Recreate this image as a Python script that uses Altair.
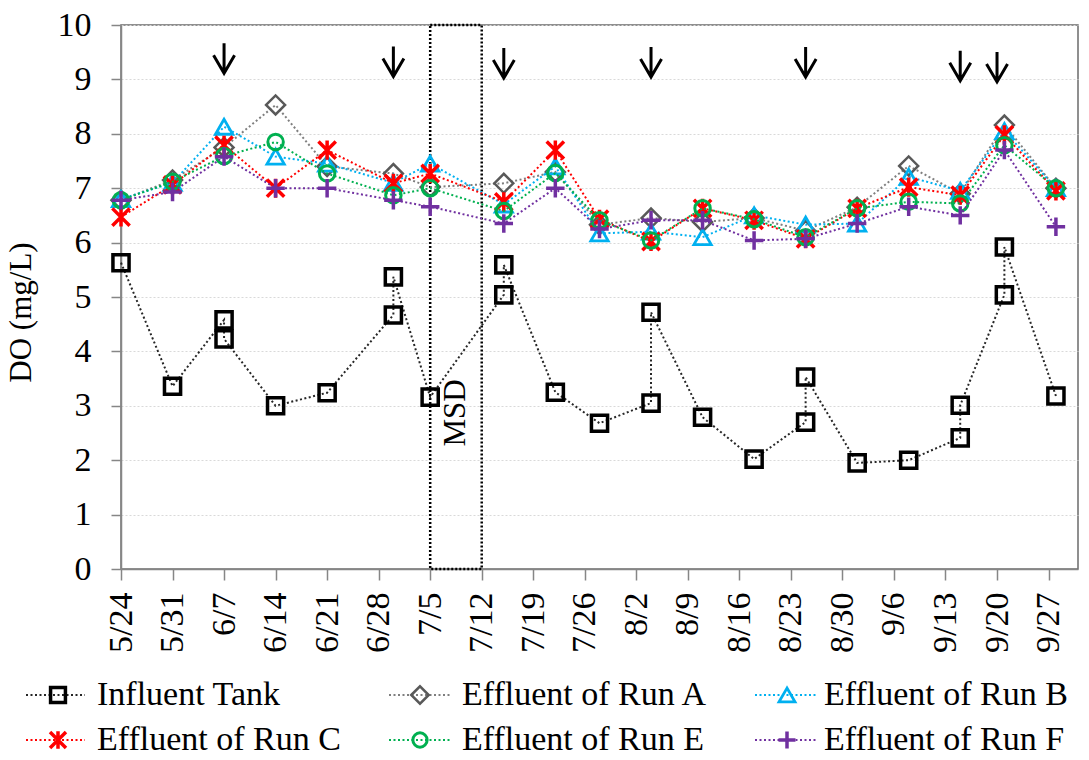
import altair as alt
import pandas as pd

# ---------------- data ----------------
tick_labels = ['5/24', '5/31', '6/7', '6/14', '6/21', '6/28', '7/5', '7/12', '7/19', '7/26',
               '8/2', '8/9', '8/16', '8/23', '8/30', '9/6', '9/13', '9/20', '9/27']

influent_dates = ['5/24', '5/31', '6/7', '6/7', '6/14', '6/21', '6/30', '6/30', '7/5', '7/15',
                  '7/15', '7/22', '7/28', '8/4', '8/4', '8/11', '8/18', '8/25', '8/25', '9/1',
                  '9/8', '9/15', '9/15', '9/21', '9/21', '9/28']
influent_do = [5.63, 3.36, 4.58, 4.23, 3.00, 3.24, 4.67, 5.37, 3.16, 5.04,
               5.59, 3.25, 2.68, 3.05, 4.72, 2.79, 2.02, 2.70, 3.53, 1.95,
               2.00, 2.41, 3.01, 5.04, 5.92, 3.18]

eff_dates = ['5/24', '5/31', '6/7', '6/14', '6/21', '6/30', '7/5', '7/15', '7/22', '7/28',
             '8/4', '8/11', '8/18', '8/25', '9/1', '9/8', '9/15', '9/21', '9/28']
run_a = [6.78, 7.15, 7.75, 8.53, 7.40, 7.27, 7.02, 7.09, 7.30, 6.33,
         6.45, 6.38, 6.45, 6.22, 6.65, 7.41, 6.90, 8.16, 7.00]
run_b = [6.80, 7.10, 8.13, 7.58, 7.45, 7.10, 7.45, 6.70, 7.40, 6.17,
         6.20, 6.10, 6.50, 6.33, 6.35, 7.21, 6.95, 8.05, 7.00]
run_c = [6.47, 7.06, 7.79, 7.00, 7.70, 7.09, 7.27, 6.75, 7.70, 6.43,
         6.02, 6.63, 6.41, 6.07, 6.63, 7.02, 6.87, 7.98, 6.95]
run_e = [6.78, 7.12, 7.59, 7.85, 7.27, 6.87, 7.00, 6.58, 7.28, 6.41,
         6.04, 6.63, 6.43, 6.10, 6.63, 6.75, 6.72, 7.79, 7.00]
run_f = [6.78, 6.93, 7.58, 7.00, 7.00, 6.78, 6.66, 6.35, 7.00, 6.25,
         6.41, 6.41, 6.04, 6.07, 6.35, 6.66, 6.50, 7.70, 6.29]

series_labels = ['Influent Tank', 'Effluent of Run A', 'Effluent of Run B',
                 'Effluent of Run C', 'Effluent of Run E', 'Effluent of Run F']

arrow_dates = ['6/7', '6/30', '7/15', '8/4', '8/25', '9/15', '9/20']
arrow_do = [9.39, 9.33, 9.30, 9.32, 9.32, 9.25, 9.23]

msd_dates = ['7/5', '7/12']
msd_label = 'MSD'

# ---------------- helpers ----------------
MONTH_OFFSET = {5: 0, 6: 31, 7: 61, 8: 92, 9: 123, 10: 153}


def day(s):
    m, d = (int(v) for v in s.split('/'))
    return MONTH_OFFSET[m] + d - 24


FONT = 'Times New Roman'
PLOT_W, PLOT_H = 957, 544

x_axis = alt.Axis(values=[day(t) for t in tick_labels],
                  labelExpr='[' + ','.join("'%s'" % t for t in tick_labels) + '][round(datum.value / 7)]',
                  labelAngle=270, labelFontSize=34, labelFont=FONT, labelColor='black',
                  labelPadding=12, tickSize=11, tickColor='#868686', tickWidth=1.5,
                  domainColor='#868686', domainWidth=1.5, grid=False, title=None)
y_axis = alt.Axis(values=list(range(0, 11)), labelFontSize=34, labelFont=FONT, labelColor='black',
                  labelPadding=20, tickSize=10, tickColor='#868686', tickWidth=1.5,
                  domainColor='#868686', domainWidth=1.5, grid=True, gridColor='#d9d9d9',
                  gridDash=[2, 2], gridWidth=1.2, title='DO (mg/L)', titleFont=FONT,
                  titleFontSize=31, titleFontWeight='normal', titleColor='black', titlePadding=20,
                  titleY=287)
x_scale = alt.Scale(domain=[0, 130], nice=False, zero=False)
y_scale = alt.Scale(domain=[0, 10], nice=False, zero=False)


def X(field='day'):
    return alt.X(field + ':Q', scale=x_scale, axis=x_axis, title=None)


def Y(field='do'):
    return alt.Y(field + ':Q', scale=y_scale, axis=y_axis, title='DO (mg/L)')


styles = {
    'Influent Tank': dict(line='#262626', stroke='black', shape='square', size=260, sw=3.5),
    'Effluent of Run A': dict(line='#7f7f7f', stroke='#595959', shape='diamond', size=360, sw=2.5),
    'Effluent of Run B': dict(line='#00B0F0', stroke='#00B0F0', shape='triangle-up', size=300, sw=2.8),
    'Effluent of Run C': dict(line='#FF0000', stroke='#FF0000',
                              shape='M-1,-1L1,1M-1,1L1,-1M0,-1.1L0,1.1', size=300, sw=3.5),
    'Effluent of Run E': dict(line='#00B050', stroke='#00B050', shape='circle', size=240, sw=3),
    'Effluent of Run F': dict(line='#7030A0', stroke='#7030A0',
                              shape='M-1,0L1,0M0,-1L0,1', size=340, sw=3.5),
}

series_values = [
    (influent_dates, influent_do),
    (eff_dates, run_a), (eff_dates, run_b), (eff_dates, run_c),
    (eff_dates, run_e), (eff_dates, run_f),
]

main_layers = []

# MSD box and label
msd_df = pd.DataFrame({'day': [day(msd_dates[0])], 'day2': [day(msd_dates[1])],
                       'do': [0], 'do2': [10]})
main_layers.append(
    alt.Chart(msd_df).mark_rect(fillOpacity=0, stroke='black', strokeDash=[2, 2], strokeWidth=2.5)
    .encode(x=X(), x2='day2:Q', y=Y(), y2='do2:Q')
)
msd_txt = pd.DataFrame({'day': [(day(msd_dates[0]) + day(msd_dates[1])) / 2], 'do': [2.87],
                        'label': [msd_label]})
main_layers.append(
    alt.Chart(msd_txt).mark_text(angle=270, fontSize=31, font=FONT, color='black')
    .encode(x=X(), y=Y(), text='label:N')
)

for label, (dates, vals) in zip(series_labels, series_values):
    st = styles[label]
    df = pd.DataFrame({'day': [day(d) for d in dates], 'do': vals, 'seq': range(len(vals))})
    base = alt.Chart(df)
    main_layers.append(
        base.mark_line(color=st['line'], strokeDash=[2, 2.5], strokeWidth=2)
        .encode(x=X(), y=Y(), order='seq:Q')
    )
    main_layers.append(
        base.mark_point(shape=st['shape'], size=st['size'], filled=False, stroke=st['stroke'],
                        strokeWidth=st['sw'], opacity=1)
        .encode(x=X(), y=Y())
    )

# arrows
arrow_df = pd.DataFrame({'day': [day(d) for d in arrow_dates], 'do': arrow_do})
main_layers.append(
    alt.Chart(arrow_df).mark_point(shape='M0,-1L0,1M-0.7,-0.2L0,1L0.7,-0.2', size=900,
                                   filled=False, stroke='black', strokeWidth=3, opacity=1)
    .encode(x=X(), y=Y())
)

main = alt.layer(*main_layers)

# ---------------- legend (own pixel scales, below the axis) ----------------
leg_col_line0 = [-95, 268, 634]
leg_col_line1 = [-36, 331, 697]
leg_col_marker = [-63, 299, 666]
leg_col_text = [-24, 341, 703]
leg_row_marker = [670, 715]
leg_row_text = [680, 725]

lx = alt.Scale(domain=[0, PLOT_W], nice=False, zero=False)
ly = alt.Scale(domain=[0, PLOT_H], reverse=True, nice=False, zero=False)

legend_layers = []
for i, label in enumerate(series_labels):
    st = styles[label]
    r, c = divmod(i, 3)
    ldf = pd.DataFrame({'x0': [leg_col_line0[c]], 'x1': [leg_col_line1[c]],
                        'xm': [leg_col_marker[c]], 'xt': [leg_col_text[c]],
                        'ym': [leg_row_marker[r]], 'yt': [leg_row_text[r]], 'label': [label]})
    b = alt.Chart(ldf)
    legend_layers.append(
        b.mark_rule(color=st['line'], strokeDash=[2, 2.5], strokeWidth=2)
        .encode(x=alt.X('x0:Q', scale=lx, axis=None), x2='x1:Q',
                y=alt.Y('ym:Q', scale=ly, axis=None))
    )
    legend_layers.append(
        b.mark_point(shape=st['shape'], size=st['size'] * 0.85, filled=False, stroke=st['stroke'],
                     strokeWidth=st['sw'], opacity=1)
        .encode(x=alt.X('xm:Q', scale=lx, axis=None), y=alt.Y('ym:Q', scale=ly, axis=None))
    )
    legend_layers.append(
        b.mark_text(align='left', baseline='alphabetic', fontSize=34, font=FONT, color='black')
        .encode(x=alt.X('xt:Q', scale=lx, axis=None), y=alt.Y('yt:Q', scale=ly, axis=None),
                text='label:N')
    )

legend = alt.layer(*legend_layers)

chart = (
    alt.layer(main, legend)
    .resolve_scale(x='independent', y='independent')
    .properties(width=PLOT_W, height=PLOT_H,
                autosize=alt.AutoSizeParams(type='none'),
                padding={'left': 121, 'top': 25, 'right': 11, 'bottom': 191},
                background='white')
    .configure(font=FONT)
    .configure_text(font=FONT)
    .configure_view(stroke='#6b6b6b', strokeWidth=1.5)
)

chart.save('out.html', embed_options={'renderer': 'svg', 'actions': False})
